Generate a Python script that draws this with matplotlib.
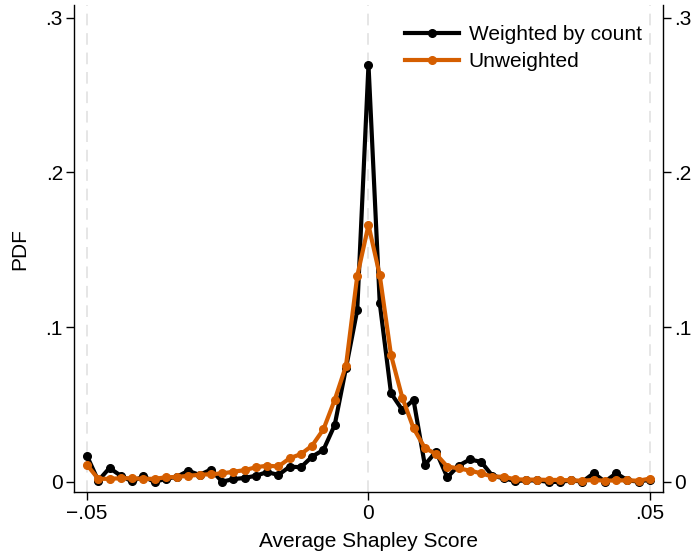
import matplotlib.pyplot as plt

plt.rcParams['font.family'] = ['Liberation Sans', 'DejaVu Sans']

# bin centres of the average Shapley score, step .002
x_vals = [round(-0.05 + 0.002 * i, 3) for i in range(51)]

weighted = [0.0168, 0.0008, 0.0090, 0.0040, 0.0003, 0.0036, 0.0000, 0.0020,
            0.0034, 0.0072, 0.0045, 0.0080, 0.0002, 0.0018, 0.0026, 0.0040,
            0.0064, 0.0045, 0.0099, 0.0095, 0.0164, 0.0207, 0.0368, 0.0735,
            0.1110, 0.2696, 0.1155, 0.0573, 0.0465, 0.0530, 0.0110, 0.0196,
            0.0030, 0.0105, 0.0145, 0.0130, 0.0040, 0.0024, 0.0006, 0.0010,
            0.0010, 0.0000, 0.0000, 0.0010, 0.0002, 0.0056, 0.0002, 0.0056,
            0.0010, 0.0002, 0.0015]

unweighted = [0.0110, 0.0020, 0.0020, 0.0024, 0.0024, 0.0020, 0.0020, 0.0030,
              0.0032, 0.0040, 0.0046, 0.0050, 0.0055, 0.0066, 0.0076, 0.0095,
              0.0105, 0.0100, 0.0153, 0.0180, 0.0235, 0.0340, 0.0530, 0.0750,
              0.1330, 0.1660, 0.1335, 0.0820, 0.0545, 0.0347, 0.0220, 0.0180,
              0.0099, 0.0088, 0.0073, 0.0056, 0.0034, 0.0034, 0.0017, 0.0015,
              0.0015, 0.0013, 0.0013, 0.0010, 0.0008, 0.0013, 0.0008, 0.0010,
              0.0010, 0.0008, 0.0022]

x_ticks = [-0.05, 0, 0.05]
x_tick_labels = ['\u2212.05', '0', '.05']
y_ticks = [0, 0.1, 0.2, 0.3]
y_tick_labels = ['0', '.1', '.2', '.3']

fig = plt.figure(figsize=(6.92, 5.57), dpi=100)
ax = fig.add_axes([0.107, 0.1167, 0.851, 0.874])

# dashed vertical grid at the x ticks
for xt in x_ticks:
    ax.axvline(xt, color='#e6e6e6', linestyle=(0, (6, 4)), linewidth=1.4, zorder=0)

ax.plot(x_vals, weighted, color='black', linewidth=3, marker='o',
        markersize=5.5, label='Weighted by count', zorder=3)
ax.plot(x_vals, unweighted, color='#D55E00', linewidth=3, marker='o',
        markersize=5.5, label='Unweighted', zorder=4)

ax.set_xlim(-0.0523, 0.0523)
ax.set_ylim(-0.0065, 0.308)
ax.set_xticks(x_ticks)
ax.set_xticklabels(x_tick_labels)
ax.set_yticks(y_ticks)
ax.set_yticklabels(y_tick_labels)

ax.spines['top'].set_visible(False)
for s in ['left', 'right', 'bottom']:
    ax.spines[s].set_linewidth(1.0)

ax.tick_params(axis='both', direction='out', length=6, width=1,
               labelsize=15, pad=3)
ax.tick_params(axis='y', right=True, labelright=True, pad=2)

ax.set_xlabel('Average Shapley Score', fontsize=15, labelpad=6)
ax.set_ylabel('PDF', fontsize=15, labelpad=12)

ax.legend(loc='upper right', frameon=False, fontsize=15, handlelength=2.6,
          handletextpad=0.45, labelspacing=0.4, borderaxespad=0.2,
          bbox_to_anchor=(0.985, 0.985))

fig.savefig('out.png', dpi=100)
